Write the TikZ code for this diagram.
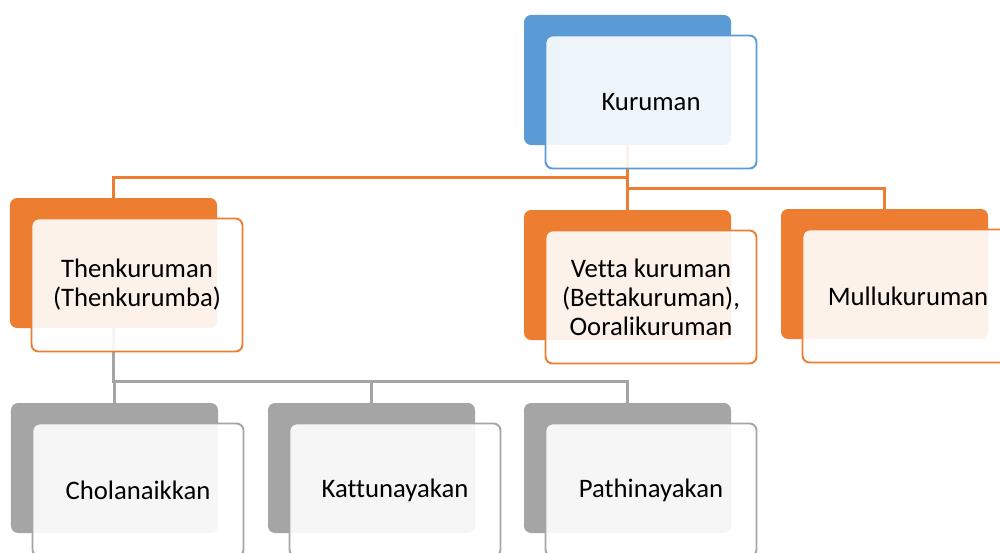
\documentclass[tikz,border=0pt]{standalone}
\usepackage{fontspec}
\setmainfont{Carlito}[Ligatures=NoCommon]
\definecolor{kblue}{HTML}{5B9BD5}
\definecolor{korange}{HTML}{ED7D31}
\definecolor{kgray}{HTML}{A5A5A5}
\begin{document}
\begin{tikzpicture}[x=0.2mm,y=-0.2mm,
        backbox/.style={rectangle,rounded corners=4pt,fill=#1,inner sep=0pt,
            minimum width=41.4mm,minimum height=26mm},
        frontbox/.style={rectangle,rounded corners=4pt,draw=#1,line width=1.1pt,
            fill=white,fill opacity=0.9,text opacity=1,inner sep=0pt,
            minimum width=42.2mm,minimum height=26.6mm,
            xshift=4.7mm,yshift=-4.4mm,
            font=\fontsize{15.2}{16.5}\selectfont,align=center},
        orangeline/.style={draw=korange,line width=1.4pt},
        grayline/.style={draw=kgray,line width=1.4pt}]
        \useasboundingbox (0,0) rectangle (1000,552);

        % Back boxes
        \node[backbox=kblue] (kurB) at (627.5,80) {};
        \node[backbox=korange] (thenB) at (113.5,263) {};
        \node[backbox=korange] (vetB) at (627.5,275) {};
        \node[backbox=korange] (mulB) at (884.5,274) {};
        \node[backbox=kgray] (cholB) at (114.5,468) {};
        \node[backbox=kgray] (kattB) at (371.5,468) {};
        \node[backbox=kgray] (pathB) at (627.5,468) {};

        % Connectors
        \draw[orangeline] (kurB.south) -- ++(0,32) -| (thenB.north);
        \draw[orangeline] (kurB.south) -- ++(0,43) -| (mulB.north);
        \draw[orangeline] (kurB.south) -- (vetB.north);
        \draw[grayline] (thenB.south) -- ++(0,53) -| (cholB.north);
        \draw[grayline] (thenB.south) -- ++(0,53) -| (kattB.north);
        \draw[grayline] (thenB.south) -- ++(0,53) -| (pathB.north);

        % Front boxes with text
        \node[frontbox=kblue] (kurF) at (kurB) {Kuruman};
        \node[frontbox=korange] (thenF) at (thenB) {Thenkuruman\\(Thenkurumba)};
        \node[frontbox=korange] (vetF) at (vetB) {Vetta kuruman\\(Bettakuruman),\\Ooralikuruman};
        \node[frontbox=korange] (mulF) at (mulB) {Mullukuruman};
        \node[frontbox=kgray] (cholF) at (cholB) {Cholanaikkan};
        \node[frontbox=kgray] (kattF) at (kattB) {Kattunayakan};
        \node[frontbox=kgray] (pathF) at (pathB) {Pathinayakan};
    \end{tikzpicture}
\end{document}
